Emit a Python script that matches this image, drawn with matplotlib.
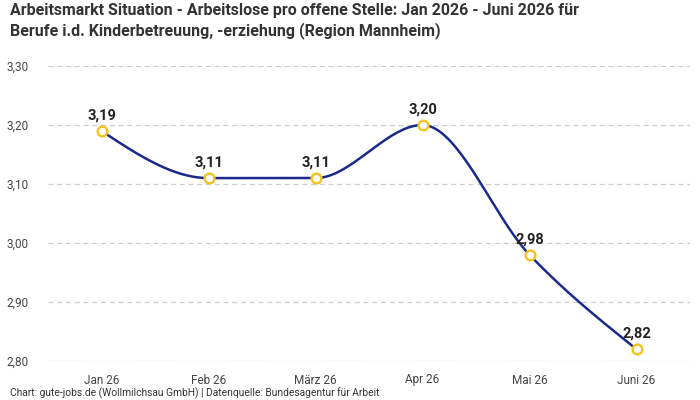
import numpy as np
import matplotlib.pyplot as plt

monate = ['Jan 26', 'Feb 26', 'März 26', 'Apr 26', 'Mai 26', 'Juni 26']
werte = [3.19, 3.11, 3.11, 3.20, 2.98, 2.82]
y_ticks = [2.80, 2.90, 3.00, 3.10, 3.20, 3.30]

titel = ('Arbeitsmarkt Situation - Arbeitslose pro offene Stelle: Jan 2026 - Juni 2026 für\n'
         'Berufe i.d. Kinderbetreuung, -erziehung (Region Mannheim)')
quelle = 'Chart: gute-jobs.de (Wollmilchsau GmbH) | Datenquelle: Bundesagentur für Arbeit'

plt.rcParams['font.family'] = ['Roboto', 'DejaVu Sans']


def monotone_kurve(x, y, n=40):
    # monotone kubische Kurve (wie d3.curveMonotoneX)
    x = np.asarray(x, float)
    y = np.asarray(y, float)
    h = np.diff(x)
    s = np.diff(y) / h
    t = np.zeros_like(y)
    for i in range(1, len(y) - 1):
        p = (s[i - 1] * h[i] + s[i] * h[i - 1]) / (h[i - 1] + h[i])
        t[i] = (np.sign(s[i - 1]) + np.sign(s[i])) * min(abs(s[i - 1]), abs(s[i]), 0.5 * abs(p))
    t[0] = (3 * s[0] - t[1]) / 2
    t[-1] = (3 * s[-1] - t[-2]) / 2
    xs, ys = [], []
    for i in range(len(h)):
        u = np.linspace(0, 1, n)
        h00 = 2 * u**3 - 3 * u**2 + 1
        h10 = u**3 - 2 * u**2 + u
        h01 = -2 * u**3 + 3 * u**2
        h11 = u**3 - u**2
        xs.extend(x[i] + u * h[i])
        ys.extend(h00 * y[i] + h10 * h[i] * t[i] + h01 * y[i + 1] + h11 * h[i] * t[i + 1])
    return np.array(xs), np.array(ys)


fig = plt.figure(figsize=(7, 4), dpi=100)
ax = fig.add_axes([48 / 700, 39 / 400, 642 / 700, 295 / 400])

xpos = np.arange(len(monate))
kx, ky = monotone_kurve(xpos, werte)
ax.plot(kx, ky, color='#1a2a8c', linewidth=1.8, zorder=3)
ax.plot(xpos, werte, linestyle='none', marker='o', markersize=7,
        markerfacecolor='white', markeredgecolor='#f6c21c', markeredgewidth=1.7, zorder=4)

for xi, v in zip(xpos, werte):
    ax.annotate(f'{v:.2f}'.replace('.', ','), (xi, v), xytext=(0, 6), textcoords='offset points',
                ha='center', va='bottom', fontsize=10.5, fontweight='semibold', color='#222222')

ax.set_xlim(-0.5, len(monate) - 0.5)
ax.set_ylim(2.80, 3.30)
ax.set_xticks(xpos)
ax.set_xticklabels(monate)
ax.set_yticks(y_ticks)
ax.set_yticklabels([f'{v:.2f}'.replace('.', ',') for v in y_ticks])
ax.tick_params(length=0, labelsize=8.5, labelcolor='#444444')
ax.tick_params(axis='x', pad=9)
ax.tick_params(axis='y', pad=14)
ax.grid(axis='y', color='#cccccc', linestyle=(0, (4, 3)), linewidth=0.9)
for sp in ax.spines.values():
    sp.set_visible(False)

fig.text(10 / 700, 1 - 3 / 400, titel, ha='left', va='top', fontsize=11.5, fontweight='bold',
         color='#333333', linespacing=1.3)
fig.text(10 / 700, 1 - 393 / 400, quelle, ha='left', va='center', fontsize=7.4, color='#333333')

fig.savefig('out.png', dpi=100)
